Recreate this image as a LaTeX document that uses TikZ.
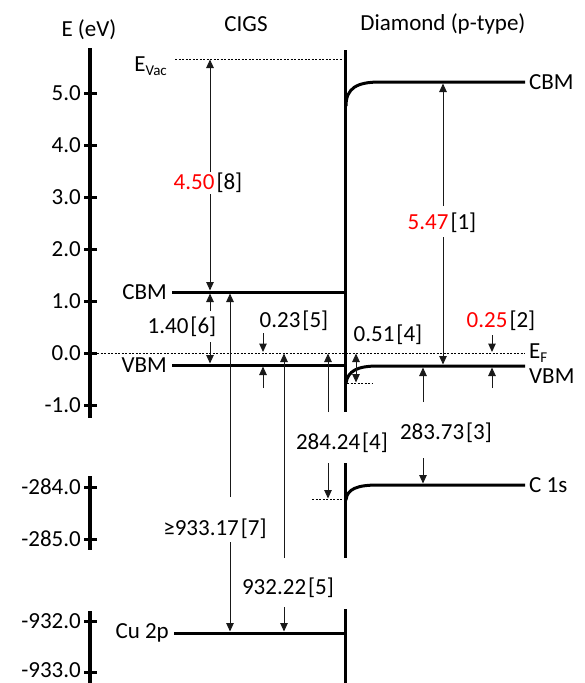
\documentclass[tikz,border=0pt]{standalone}
\usepackage{fontspec}
\setmainfont{Carlito}
\usetikzlibrary{arrows.meta}
\newcommand{\subtxt}[1]{\raisebox{-0.4ex}{\fontsize{15}{15}\selectfont #1}}
\begin{document}
\begin{tikzpicture}[x=1pt,y=-1pt,
  every node/.style={font=\fontsize{23}{25}\selectfont, inner sep=1pt},
  axisline/.style={line width=3.5pt},
  tickmark/.style={line width=3pt},
  level/.style={line width=3pt},
  fermi/.style={line width=0.8pt, dash pattern=on 2pt off 1.5pt},
  dim/.style={line width=1pt, black!90, -{Triangle[length=8.5pt,width=7.5pt]}},
  dimboth/.style={line width=1pt, black!90, {Triangle[length=8.5pt,width=7.5pt]}-{Triangle[length=8.5pt,width=7.5pt]}},
  lbl/.style={fill=white, inner sep=1pt}]
\useasboundingbox (0,0) rectangle (585,683);

% headers
\node (hE) at (89,30) {E (eV)};
\node (hCIGS) at (246,24) {CIGS};
\node (hDia) at (443,24) {Diamond (p-type)};

% axis
\draw[axisline] (90,48) -- (90,418);
\draw[axisline] (90,476) -- (90,550);
\draw[axisline] (90,611) -- (90,683);
\foreach \yy/\tx/\nm in {93/5.0/t5, 145/4.0/t4, 197/3.0/t3, 249/2.0/t2, 301/1.0/t1, 353/0.0/t0, 405/-1.0/tm1, 487/-284.0/t284, 539/-285.0/t285, 621/-932.0/t932}{
  \draw[tickmark] (84,\yy) -- (97,\yy);
  \node[anchor=east] (\nm) at (82,\yy) {\tx};
}
\draw[tickmark] (84,672) -- (97,672);
\node[anchor=east] (t933) at (82,670) {-933.0};

% interface
\draw[level] (345,50) -- (345,412);
\draw[level] (345,463) -- (345,558);
\draw[level] (345,609) -- (345,683);

% vacuum level
\coordinate (vacL) at (175,59);
\coordinate (vacR) at (343,59);
\draw[fermi] (vacL) -- (vacR);
\node[anchor=east] (evac) at (168,66) {E\subtxt{Vac}};

% Fermi level
\coordinate (efL) at (97,353);
\coordinate (efR) at (525,353);
\draw[fermi] (efL) -- (efR);
\node[anchor=west] (ef) at (528,353) {E\subtxt{F}};

% CIGS levels
\coordinate (cbmL) at (172,292);
\coordinate (cbmR) at (345,292);
\coordinate (vbmL) at (172,365);
\coordinate (vbmR) at (345,365);
\coordinate (cuL) at (174,633);
\coordinate (cuR) at (345,633);
\draw[level] (cbmL) -- (cbmR);
\draw[level] (vbmL) -- (vbmR);
\draw[level] (cuL) -- (cuR);
\node[anchor=east] (lcbm) at (168,292) {CBM};
\node[anchor=east] (lvbm) at (168,365) {VBM};
\node[anchor=east] (lcu) at (170,633) {Cu 2p};

% Diamond levels
\draw[level] (346,106) .. controls (346,88) and (357,82) .. (380,82) -- (525,82) coordinate (dcbmR);
\draw[level] (346,383) .. controls (348,371) and (357,366) .. (378,366) -- (525,366) coordinate (dvbmR);
\draw[level] (346,500) .. controls (347,489) and (357,485) .. (378,485) -- (525,485) coordinate (dc1sR);
\node[anchor=west] (rcbm) at (528,82) {CBM};
\node[anchor=west] (rvbm) at (528,376) {VBM};
\node[anchor=west] (rc1s) at (528,485) {C 1s};
\draw[fermi] (347,383) -- (372,383);
\draw[fermi] (312,499) -- (343,499);

% 4.50 [8]
\draw[dimboth] (210,290.5) -- (210,59.5);
\node[lbl] (l450) at (208,183) {\textcolor{red}{4.50}\hspace{2pt}[8]};

% 1.40 [6]
\draw[dim] (210,311) -- (210,293.5);
\draw[dim] (210,342) -- (210,363.5);
\node[lbl] (l140) at (182,327) {1.40\hspace{2pt}[6]};

% >=933.17 [7]
\draw[dim] (230,497) -- (230,293.5);
\draw[dim] (230,542) -- (230,631.5);
\node[lbl] (l933) at (215,529) {≥933.17\hspace{2pt}[7]};

% 0.23 [5]
\draw[dim] (263,333) -- (263,352);
\draw[dim] (263,388) -- (263,366.5);
\node[lbl] (l023) at (294,321) {0.23\hspace{2pt}[5]};

% 932.22 [5]
\draw[dim] (284,558) -- (284,353.5);
\draw[dim] (284,607) -- (284,631.5);
\node[lbl] (l932) at (288,588) {932.22\hspace{2pt}[5]};

% 284.24 [4]
\draw[dim] (328,412) -- (328,353.5);
\draw[dim] (328,463) -- (328,498.5);
\node[lbl] (l284) at (342,443) {284.24\hspace{2pt}[4]};

% 5.47 [1]
\draw[dim] (443,206) -- (443,83.5);
\draw[dim] (443,237) -- (443,364.5);
\node[lbl] (l547) at (442,223) {\textcolor{red}{5.47}\hspace{2pt}[1]};

% 0.51 [4]
\draw[dimboth] (356,353.5) -- (356,382.5);
\node[lbl] (l051) at (388,335) {0.51\hspace{2pt}[4]};

% 0.25 [2]
\draw[dim] (492,335) -- (492,352);
\draw[dim] (492,388) -- (492,367.5);
\node[lbl] (l025) at (501,321) {\textcolor{red}{0.25}\hspace{2pt}[2]};

% 283.73 [3]
\draw[dim] (423,402) -- (423,367.5);
\draw[dim] (423,458) -- (423,483.5);
\node[lbl] (l283) at (446,433) {283.73\hspace{2pt}[3]};
\end{tikzpicture}
\end{document}
